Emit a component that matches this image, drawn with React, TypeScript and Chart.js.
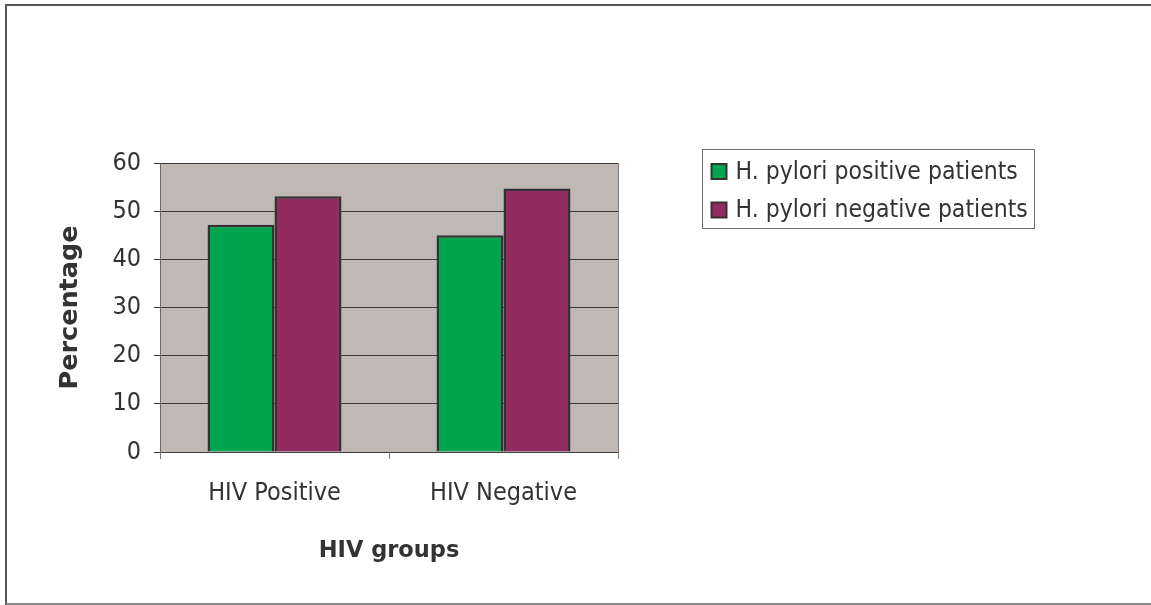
import React, { useEffect, useRef } from "react";
import { Chart, registerables } from "chart.js";

Chart.register(...registerables);

const categories = ["HIV Positive", "HIV Negative"];
const seriesNames = ["H. pylori positive patients", "H. pylori negative patients"];
const hpPositive = [47.2, 45.0];
const hpNegative = [53.1, 54.7];
const yTicks = [0, 10, 20, 30, 40, 50, 60];
const xTitle = "HIV groups";
const yTitle = "Percentage";

const GREEN = "#00A550";
const MAROON = "#922B5F";
const EDGE = "#333333";
const TEXT = "#333333";
const NARROW = "'Liberation Sans Narrow', 'DejaVu Sans Condensed', 'Liberation Sans', sans-serif";
const BOLD = "'DejaVu Sans', Verdana, sans-serif";

const framePlugin = {
  id: "frame",
  beforeDraw(chart: any) {
    const { ctx, chartArea: a } = chart;
    ctx.save();
    ctx.fillStyle = "#ffffff";
    ctx.fillRect(0, 0, chart.width, chart.height);
    ctx.fillStyle = "#C0B8B5";
    ctx.fillRect(a.left, a.top, a.right - a.left, a.bottom - a.top);
    ctx.restore();
  },
  beforeDatasetsDraw(chart: any) {
    const { ctx, chartArea: a } = chart;
    ctx.save();
    ctx.strokeStyle = "#7a7a7a";
    ctx.lineWidth = 1;
    ctx.beginPath();
    ctx.moveTo(a.right + 0.5, a.top);
    ctx.lineTo(a.right + 0.5, a.bottom + 7);
    ctx.stroke();
    ctx.restore();
  },
  afterDraw(chart: any) {
    const { ctx, chartArea: a } = chart;
    ctx.save();
    // outer frame (left, top, bottom)
    ctx.strokeStyle = "#555555";
    ctx.lineWidth = 2;
    ctx.beginPath();
    ctx.moveTo(chart.width, 5);
    ctx.lineTo(6, 5);
    ctx.lineTo(6, chart.height);
    ctx.stroke();
    ctx.strokeStyle = "#8a8a8a";
    ctx.beginPath();
    ctx.moveTo(6, chart.height - 1);
    ctx.lineTo(chart.width, chart.height - 1);
    ctx.stroke();
    // legend
    const lx = a.right + 84.5;
    const ly = a.top - 13.5;
    const lw = 332;
    const lh = 79;
    ctx.strokeStyle = "#6e6e6e";
    ctx.lineWidth = 1;
    ctx.strokeRect(lx, ly, lw, lh);
    ctx.font = `24.5px ${NARROW}`;
    ctx.textBaseline = "middle";
    ctx.textAlign = "left";
    chart.data.datasets.forEach((ds: any, i: number) => {
      const cy = ly + 22 + i * 38.5;
      ctx.fillStyle = ds.backgroundColor;
      ctx.fillRect(lx + 9, cy - 7.5, 15, 15);
      ctx.strokeStyle = EDGE;
      ctx.lineWidth = 2;
      ctx.strokeRect(lx + 9, cy - 7.5, 15, 15);
      ctx.fillStyle = TEXT;
      ctx.fillText(ds.label, lx + 33, cy + 1);
    });
    ctx.restore();
  },
};

export default function App() {
  const ref = useRef<HTMLCanvasElement>(null);

  useEffect(() => {
    if (!ref.current) return;
    const chart = new Chart(ref.current, {
      type: "bar",
      data: {
        labels: categories,
        datasets: [
          {
            label: seriesNames[0],
            data: hpPositive,
            backgroundColor: GREEN,
            borderColor: EDGE,
            borderWidth: 2.5,
            borderSkipped: "bottom",
          },
          {
            label: seriesNames[1],
            data: hpNegative,
            backgroundColor: MAROON,
            borderColor: EDGE,
            borderWidth: 2.5,
            borderSkipped: "bottom",
          },
        ],
      },
      plugins: [framePlugin],
      options: {
        animation: false,
        responsive: true,
        maintainAspectRatio: false,
        layout: { padding: { left: 0, top: 163, right: 533, bottom: 0 } },
        datasets: { bar: { categoryPercentage: 0.585, barPercentage: 1 } },
        plugins: {
          legend: { display: false },
          tooltip: { enabled: false },
          title: { display: false },
        },
        scales: {
          x: {
            grid: {
              display: true,
              drawOnChartArea: false,
              drawTicks: true,
              tickLength: 7,
              color: "#7a7a7a",
              offset: true,
            },
            border: { display: true, color: "#404040" },
            ticks: {
              color: TEXT,
              font: { family: NARROW, size: 25 },
              padding: 19,
              maxRotation: 0,
            },
            title: {
              display: true,
              text: xTitle,
              color: TEXT,
              font: { family: BOLD, size: 22.5, weight: "bold" },
              padding: { top: 0, bottom: 40 },
            },
            afterFit: (s: any) => {
              s.height = 153;
            },
          },
          y: {
            min: 0,
            max: 60,
            afterBuildTicks: (s: any) => {
              s.ticks = yTicks.map((v) => ({ value: v }));
            },
            grid: {
              color: "#3a3a3a",
              lineWidth: 1,
              drawTicks: true,
              tickLength: 6,
            },
            border: { display: true, color: "#6a6a6a" },
            ticks: {
              color: TEXT,
              font: { family: NARROW, size: 25 },
              padding: 13,
            },
            title: {
              display: true,
              text: yTitle,
              color: TEXT,
              font: { family: BOLD, size: 25.5, weight: "bold" },
              padding: { top: 55, bottom: 0 },
            },
            afterFit: (s: any) => {
              s.width = 160;
            },
          },
        },
      },
    });
    return () => chart.destroy();
  }, []);

  return (
    <div style={{ position: "fixed", left: 0, top: 0, width: 1151, height: 605, background: "#fff" }}>
      <canvas ref={ref} />
    </div>
  );
}
